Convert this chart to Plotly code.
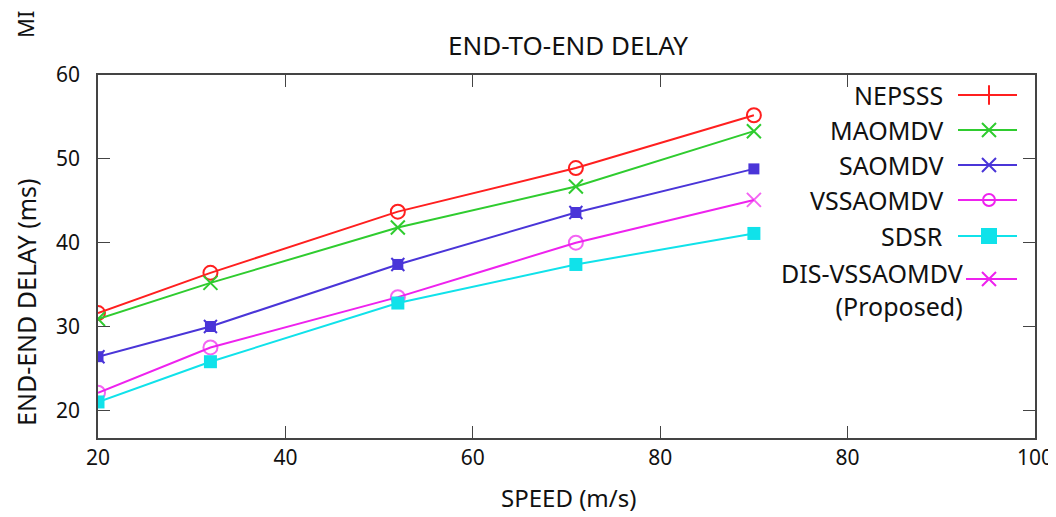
import plotly.graph_objects as go

# ---------------- data ----------------
speed = [20, 32, 52, 71, 90]
x_tick_vals = [20, 40, 60, 80, 100, 120]
x_tick_text = ["20", "40", "60", "80", "80", "100"]
y_tick_vals = [20, 30, 40, 50, 60]

nepsss = [31.6, 36.4, 43.7, 48.9, 55.2]
maomdv = [30.9, 35.2, 41.8, 46.7, 53.3]
saomdv = [26.4, 30.0, 37.4, 43.6, 48.8]
vssaomdv = [22.1, 27.5, 33.5, 40.0, 45.1]
sdsr = [21.0, 25.8, 32.8, 37.4, 41.1]

legend_names = ["NEPSSS", "MAOMDV", "SAOMDV", "VSSAOMDV", "SDSR", "DIS-VSSAOMDV<br>(Proposed)"]

RED = "#ff1f1f"
GREEN = "#2fcc2f"
BLUE = "#4a35d8"
MAG = "#ee22ee"
CYAN = "#10e2ea"

FONT = "Noto Sans"
TXT = "#111111"

# the page body adds an 8px offset; figure is sized to fill the rest of the window
OFF = 8
W, H = 1056 - OFF, 517 - OFF
# plot area in page pixels
L, R, T, B = 98, 1035, 75, 438
def px(xp):
    return (xp - L) / (R - L)
def py(yp):
    return (B - yp) / (B - T)

fig = go.Figure()

# data traces
fig.add_trace(go.Scatter(x=speed, y=nepsss, mode="lines+markers", showlegend=False,
                         line=dict(color=RED, width=2),
                         marker=dict(symbol="circle-open", size=14, color=RED, line=dict(width=2))))
fig.add_trace(go.Scatter(x=speed, y=maomdv, mode="lines+markers", showlegend=False,
                         line=dict(color=GREEN, width=2),
                         marker=dict(symbol="x-thin-open", size=14, color=GREEN, line=dict(width=2, color=GREEN))))
fig.add_trace(go.Scatter(x=speed, y=saomdv, mode="lines+markers", showlegend=False,
                         line=dict(color=BLUE, width=2),
                         marker=dict(symbol="square", size=11, color=BLUE, line=dict(width=0))))
fig.add_trace(go.Scatter(x=speed[:-1], y=saomdv[:-1], mode="markers", showlegend=False,
                         marker=dict(symbol="x-thin-open", size=13, color=BLUE, line=dict(width=2, color=BLUE))))
fig.add_trace(go.Scatter(x=speed, y=vssaomdv, mode="lines+markers", showlegend=False,
                         line=dict(color=MAG, width=2),
                         marker=dict(symbol=["circle-open"] * 4 + ["x-thin-open"], size=[14, 14, 14, 14, 14],
                                     color=MAG, line=dict(width=2, color=MAG))))
fig.add_trace(go.Scatter(x=speed, y=sdsr, mode="lines+markers", showlegend=False,
                         line=dict(color=CYAN, width=2),
                         marker=dict(symbol="square", size=13, color=CYAN, line=dict(width=0))))

# ---------------- custom gnuplot-style legend (overlay axes 0..1) ----------------
leg_colors = [RED, GREEN, BLUE, MAG, CYAN, MAG]
leg_symbols = ["line-ns-open", "x-thin-open", "x-thin-open", "circle-open", "square", "x-thin-open"]
leg_sizes = [14, 14, 14, 12, 14, 14]
leg_y = [py(95), py(130), py(165), py(200), py(236), py(279)]
leg_text_y = [py(95), py(130), py(165), py(200), py(236), py(289)]
leg_text_x = [px(945)] * 5 + [px(965)]
leg_line_x0 = [px(958)] * 5 + [px(966)]
leg_line_x1 = px(1017)
leg_mark_x = px(989)

for i, name in enumerate(legend_names):
    fig.add_trace(go.Scatter(x=[leg_line_x0[i], leg_line_x1], y=[leg_y[i], leg_y[i]], mode="lines",
                             xaxis="x2", yaxis="y2", showlegend=False, hoverinfo="skip",
                             line=dict(color=leg_colors[i], width=2)))
    fig.add_trace(go.Scatter(x=[leg_mark_x], y=[leg_y[i]], mode="markers",
                             xaxis="x2", yaxis="y2", showlegend=False, hoverinfo="skip",
                             marker=dict(symbol=leg_symbols[i], size=leg_sizes[i], color=leg_colors[i],
                                         line=dict(width=2, color=leg_colors[i]))))
    fig.add_annotation(x=leg_text_x[i], y=leg_text_y[i], xref="x2", yref="y2", text=name,
                       showarrow=False, xanchor="right", yanchor="middle", align="right",
                       font=dict(family=FONT, size=25, color=TXT))

# ---------------- titles ----------------
fig.add_annotation(x=px(568), y=py(45), xref="paper", yref="paper",
                   text="END-TO-END DELAY", showarrow=False, xanchor="center", yanchor="middle",
                   font=dict(family=FONT, size=26, color=TXT))
fig.add_annotation(x=px(25), y=py(25), xref="paper", yref="paper",
                   text="MI", showarrow=False, textangle=-90, xanchor="center", yanchor="middle",
                   font=dict(family=FONT, size=22, color=TXT))
fig.add_annotation(x=px(26), y=py(302), xref="paper", yref="paper",
                   text="END-END DELAY (ms)", showarrow=False, textangle=-90, xanchor="center", yanchor="middle",
                   font=dict(family=FONT, size=25, color=TXT))
fig.add_annotation(x=px(568), y=py(497), xref="paper", yref="paper",
                   text="SPEED (m/s)", showarrow=False, xanchor="center", yanchor="middle",
                   font=dict(family=FONT, size=24, color=TXT))

axis_line = "#444444"
fig.update_layout(
    width=W, height=H,
    margin=dict(l=L - OFF, r=W - (R - OFF), t=T - OFF, b=H - (B - OFF), autoexpand=False),
    paper_bgcolor="white", plot_bgcolor="white",
    font=dict(family=FONT, color=TXT),
    xaxis=dict(range=[20, 120], tickvals=x_tick_vals, ticktext=x_tick_text,
               ticks="inside", ticklen=12, tickwidth=1.2, tickcolor=axis_line,
               showline=True, linecolor=axis_line, linewidth=1.5, mirror="ticks",
               showgrid=False, zeroline=False, automargin=False,
               tickfont=dict(family=FONT, size=21, color=TXT)),
    yaxis=dict(range=[16.7, 60], tickvals=y_tick_vals,
               ticks="inside", ticklen=12, tickwidth=1.2, tickcolor=axis_line,
               showline=True, linecolor=axis_line, linewidth=1.5, mirror="ticks",
               showgrid=False, zeroline=False, ticklabelstandoff=12, automargin=False,
               tickfont=dict(family=FONT, size=21, color=TXT)),
    xaxis2=dict(range=[0, 1], overlaying="x", visible=False, fixedrange=True),
    yaxis2=dict(range=[0, 1], overlaying="y", visible=False, fixedrange=True),
)

fig.write_html("out.html")
